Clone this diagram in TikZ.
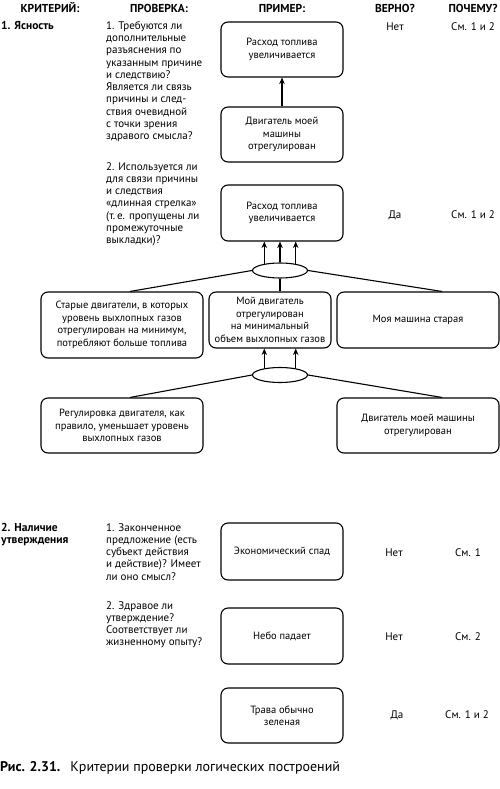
\documentclass[tikz,border=0pt]{standalone}
\usepackage{fontspec}
\setmainfont{PT Sans}
\usetikzlibrary{shapes.geometric,calc,arrows.meta}
\begin{document}
\begin{tikzpicture}[x=1pt,y=1pt,
  txt/.style={font=\fontsize{11}{12.3}\selectfont, inner sep=0pt},
  hdr/.style={font=\fontsize{11.5}{12.3}\selectfont\bfseries, inner sep=0pt},
  chk/.style={txt, align=left, anchor=north west},
  rbox/.style={draw, line width=1.1pt, rounded corners=7pt, align=center, inner sep=2pt,
     font=\fontsize{10.5}{12.5}\selectfont, minimum width=122pt, minimum height=55pt},
  wbox/.style={rbox, minimum width=162pt},
  oval/.style={draw, line width=1.1pt, ellipse, minimum width=55pt, minimum height=15pt, inner sep=0pt},
  conn/.style={line width=1.1pt},
  arr/.style={line width=1.1pt, -{Stealth[length=6.5pt,width=5.5pt]}}
]
\useasboundingbox (0,0) rectangle (500,-789);

% headers
\node[hdr] (h1) at (50,-8) {КРИТЕРИЙ:};
\node[hdr] (h2) at (159,-8) {ПРОВЕРКА:};
\node[hdr] (h3) at (282,-8) {ПРИМЕР:};
\node[hdr] (h4) at (395,-8) {ВЕРНО?};
\node[hdr] (h5) at (473,-8) {ПОЧЕМУ?};

% section 1
\node[hdr, anchor=north west] (c1) at (1,-21) {1. Ясность};
\node[chk] (k1) at (106,-21) {1. Требуются ли\\дополнительные\\разъяснения по\\указанным причине\\и следствию?\\Является ли связь\\причины и след-\\ствия очевидной\\с точки зрения\\здравого смысла?};
\node[chk] (k2) at (106,-162) {2. Используется ли\\для связи причины\\и следствия\\«длинная стрелка»\\(т.\,е. пропущены ли\\промежуточные\\выкладки)?};

\node[rbox] (b1) at (282,-49.5) {Расход топлива\\увеличивается};
\node[rbox] (b2) at (282,-134.5) {Двигатель моей\\машины\\отрегулирован};
\node[rbox, minimum height=56pt] (b3) at (282,-213) {Расход топлива\\увеличивается};
\draw[arr] (b2.north) -- (b1.south);

\node[txt] (v1) at (395,-27) {Нет};
\node[txt] (w1) at (473,-27) {См. 1 и 2};
\node[txt] (v2) at (395,-215) {Да};
\node[txt] (w2) at (473,-215) {См. 1 и 2};

\node[oval] (e1) at (280,-270.5) {};
\node[wbox, minimum height=66pt] (lb) at (122,-325) {Старые двигатели, в которых\\уровень выхлопных газов\\отрегулирован на минимум,\\потребляют больше топлива};
\node[rbox, minimum height=56pt] (mb) at (270,-320) {Мой двигатель\\отрегулирован\\на минимальный\\объем выхлопных газов};
\node[wbox, minimum height=56pt] (rb) at (418,-320) {Моя машина старая};

\draw[arr] (e1.157) -- (e1.157 |- b3.south);
\draw[arr] (e1.north) -- (e1.north |- b3.south);
\draw[arr] (e1.23) -- (e1.23 |- b3.south);
\draw[conn] (e1.south) -- (e1.south |- mb.north);
\draw[conn] (e1.west) -- ($(lb.north)+(8,0)$);
\draw[conn] (e1.east) -- ($(rb.north)+(24,0)$);

\node[oval] (e2) at (280,-375) {};
\node[wbox] (lb2) at (122,-425.5) {Регулировка двигателя, как\\правило, уменьшает уровень\\выхлопных газов};
\node[wbox] (rb2) at (418,-425.5) {Двигатель моей машины\\отрегулирован};
\draw[arr] (e2.157) -- (e2.157 |- mb.south);
\draw[arr] (e2.23) -- (e2.23 |- mb.south);
\draw[conn] (e2.west) -- ($(lb2.north)+(8,0)$);
\draw[conn] (e2.east) -- ($(rb2.north)+(24,0)$);

% section 2
\node[hdr, anchor=north west, align=left] (c2) at (1,-523) {2. Наличие\\утверждения};
\node[chk] (k3) at (106,-523) {1. Законченное\\предложение (есть\\субъект действия\\и действие)? Имеет\\ли оно смысл?};
\node[chk] (k4) at (106,-601) {2. Здравое ли\\утверждение?\\Соответствует ли\\жизненному опыту?};

\node[rbox, minimum height=57pt] (s1) at (282,-551.5) {Экономический спад};
\node[rbox, minimum height=56pt] (s2) at (282,-636) {Небо падает};
\node[rbox] (s3) at (282,-715.5) {Трава обычно\\зеленая};

\node[txt] (v3) at (394,-553) {Нет};
\node[txt] (w3) at (468,-553) {См. 1};
\node[txt] (v4) at (394,-637) {Нет};
\node[txt] (w4) at (468,-637) {См. 2};
\node[txt] (v5) at (397,-715) {Да};
\node[txt] (w5) at (467,-715) {См. 1 и 2};

% caption
\node[anchor=west, inner sep=0pt, font=\fontsize{14}{16}\selectfont] (cap) at (0,-768) {\textbf{Рис. 2.31.}\hspace{10pt}Критерии проверки логических построений};
\end{tikzpicture}
\end{document}
